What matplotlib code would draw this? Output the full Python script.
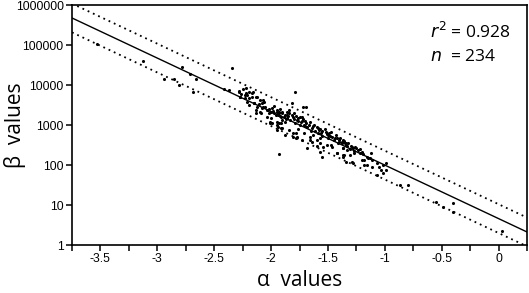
import matplotlib.pyplot as plt
import numpy as np

# alpha values and log10(beta) values
alpha = [
    -3.53, -3.13, -2.78, -2.94, -2.85, -2.81, -2.71, -2.66, -2.69, -2.34,
    -2.37, -2.41, -2.28, -2.25, -2.23, -2.21, -2.19, -2.17, -2.13,
    -2.28, -2.26, -2.22, -2.19, -2.27, -2.23, -2.17, -2.21, -2.15, -2.12,
    -2.19, -2.08, -2.08, -2.06, -2.10, -2.03, -2.00, -1.99, -1.97, -1.95,
    -1.94, -1.93, -1.91, -1.90, -1.88, -1.86, -2.00, -1.95, -1.93, -2.01,
    -1.90, -1.86, -1.94, -1.90, -2.04, -2.13, -2.10, -2.07, -2.04, -2.02,
    -2.13, -2.09, -2.16, -2.22, -2.12, -2.27, -2.15,
    -1.79, -1.82, -1.72, -1.69, -2.00, -1.95, -1.93, -1.90, -1.86, -1.84,
    -1.81, -1.78, -1.77, -1.75, -1.74, -1.72, -1.71, -1.68, -1.66, -1.64,
    -1.60, -1.58, -1.56, -1.53, -1.50, -1.47, -1.46, -1.42, -1.40, -1.37,
    -1.34, -1.29, -1.25, -1.20, -1.16, -2.01, -1.95, -1.88, -1.91, -1.84,
    -1.78, -1.81, -1.73, -1.66, -1.64, -1.57, -1.60, -1.54, -1.47, -1.37,
    -1.93, -1.42, -1.37, -1.80, -1.76, -1.73, -1.69, -1.62, -1.59, -1.55,
    -1.51, -1.49, -1.44, -1.40, -1.38, -1.35, -1.33, -1.31, -1.27, -1.99,
    -1.91, -1.95, -1.81, -1.78, -1.66, -1.60, -1.57, -1.51, -1.46, -1.42,
    -1.36, -1.34, -1.29, -1.88, -1.77, -1.68, -1.57, -1.55,
    -1.38, -1.34, -1.37, -1.33, -1.28, -1.27, -1.37, -1.31, -1.22, -1.18,
    -1.15, -1.12, -1.13, -1.11, -1.07, -1.05, -1.02, -1.03, -0.99, -1.28,
    -1.18, -1.11, -1.07, -1.02, -0.87, -0.80, -0.55, -0.49, -0.40, -0.40,
    0.03, -1.20, -1.16, -0.99,
    -2.05, -2.02, -1.98, -1.96, -1.92, -1.89, -1.87, -1.85, -1.83, -1.82,
    -1.80, -1.79, -1.76, -1.75, -1.73, -1.70, -1.70, -1.67, -1.65, -1.63,
    -1.61, -1.59, -1.57, -1.55, -1.52, -1.50, -1.48, -1.45, -1.43, -1.41,
    -1.39, -1.36, -1.32, -1.30, -1.26, -1.24, -1.22, -1.19, -2.11, -2.07,
    -1.97, -1.92, -1.84, -1.76, -1.71, -1.63,
]
log_beta = [
    5.03, 4.60, 4.45, 4.15, 4.15, 4.00, 4.28, 4.15, 3.83, 4.43,
    3.88, 3.90, 3.85, 3.90, 3.75, 3.75, 3.68, 3.80, 3.70,
    3.83, 3.78, 3.93, 3.83, 3.70, 3.68, 3.70, 3.58, 3.55, 3.45,
    3.50, 3.55, 3.43, 3.58, 3.33, 3.38, 3.33, 3.43, 3.30, 3.33,
    3.25, 3.33, 3.20, 3.30, 3.25, 3.33, 3.18, 3.08, 3.05, 3.08,
    3.13, 3.18, 2.95, 2.93, 3.20, 3.38, 3.63, 3.45, 3.38, 3.40,
    3.30, 3.30, 3.83, 3.80, 3.70, 3.70, 3.55,
    3.83, 3.55, 3.45, 3.45, 3.33, 3.38, 3.30, 3.33, 3.25, 3.30,
    3.20, 3.23, 3.13, 3.20, 3.08, 3.15, 3.00, 2.95, 3.08, 2.93,
    2.95, 2.88, 2.80, 2.90, 2.75, 2.83, 2.70, 2.68, 2.58, 2.63,
    2.50, 2.45, 2.43, 2.33, 2.20, 3.05, 3.00, 3.08, 2.93, 2.88,
    2.80, 2.70, 2.63, 2.70, 2.58, 2.68, 2.48, 2.45, 2.50, 2.43,
    2.28, 2.30, 2.20, 3.30, 3.18, 3.10, 3.05, 3.00, 2.92, 2.85,
    2.78, 2.80, 2.68, 2.63, 2.58, 2.55, 2.48, 2.40, 2.35, 3.05,
    3.05, 2.88, 2.80, 2.68, 2.63, 2.63, 2.55, 2.50, 2.45, 2.30,
    2.25, 2.08, 2.08, 2.75, 2.70, 2.43, 2.33, 2.20,
    2.55, 2.55, 2.43, 2.38, 2.43, 2.30, 2.25, 2.25, 2.30, 2.13,
    2.18, 2.30, 2.18, 2.13, 2.05, 1.95, 2.00, 1.88, 2.05, 2.05,
    2.00, 1.95, 1.75, 1.80, 1.50, 1.50, 1.08, 0.95, 1.05, 0.83,
    0.35, 2.13, 2.00, 1.88,
    3.45, 3.30, 3.35, 3.25, 3.22, 3.20, 3.15, 3.22, 3.12, 3.25,
    3.15, 3.05, 3.10, 3.00, 3.20, 3.10, 2.98, 3.00, 2.85, 2.98,
    2.85, 2.80, 2.90, 2.72, 2.82, 2.68, 2.72, 2.62, 2.75, 2.55,
    2.68, 2.60, 2.55, 2.48, 2.45, 2.38, 2.40, 2.28, 3.52, 3.62,
    3.48, 3.40, 3.38, 2.90, 2.80, 2.75,
]
beta = [10 ** v for v in log_beta]

# fitted line (log10 beta = a + b*alpha) and prediction band half-width
fit_a = 0.66
fit_b = -1.3375
band = 0.36

x_ticks = [-3.5, -3, -2.5, -2, -1.5, -1, -0.5, 0]
y_ticks = [1, 10, 100, 1000, 10000, 100000, 1000000]

plt.rcParams['font.family'] = 'sans-serif'
plt.rcParams['font.sans-serif'] = ['Liberation Sans']

fig = plt.figure(figsize=(5.29, 2.93), dpi=100)
ax = fig.add_axes([72/529, 48/293, 455/529, 240/293])

xs = np.array([-3.75, 0.25])
ax.plot(xs, 10 ** (fit_a + fit_b * xs), color='black', lw=1.0)
ax.plot(xs, 10 ** (fit_a + band + fit_b * xs), color='black', lw=1.3, linestyle=(0, (1, 2.2)))
ax.plot(xs, 10 ** (fit_a - band + fit_b * xs), color='black', lw=1.3, linestyle=(0, (1, 2.2)))

ax.scatter(alpha, beta, s=5, color='black', linewidths=0, zorder=3)

ax.set_yscale('log')
ax.set_xlim(-3.75, 0.25)
ax.set_ylim(1, 1000000)
ax.set_xticks(x_ticks)
ax.set_xticklabels([str(t) for t in x_ticks])
ax.set_xticks(np.arange(-3.75, 0.26, 0.25), minor=True)
ax.set_yticks(y_ticks)
ax.set_yticklabels([str(t) for t in y_ticks])
ax.yaxis.set_minor_locator(plt.NullLocator())
ax.tick_params(which='both', direction='out', length=4, width=1.1, labelsize=8.7, pad=2)
for s in ax.spines.values():
    s.set_linewidth(1.2)

lab_font = ['Open Sans', 'DejaVu Sans']
ax.set_xlabel('α  values', fontsize=15, family=lab_font)
ax.xaxis.set_label_coords(0.5, -0.105)
ax.set_ylabel('β  values', fontsize=15, family=lab_font)
ax.yaxis.set_label_coords(-0.1, 0.5)

ax.text(0.787, 0.8875, r'$r^2$ = 0.928', transform=ax.transAxes, fontsize=12.5,
        family=lab_font, va='center')
ax.text(0.787, 0.783, r'$n$  = 234', transform=ax.transAxes, fontsize=12.5,
        family=lab_font, va='center')

fig.savefig('out.png', dpi=100)
